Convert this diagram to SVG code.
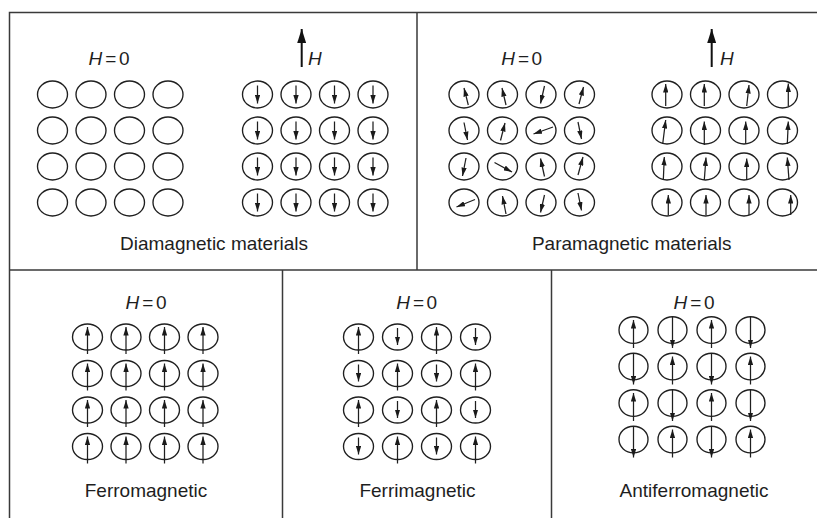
<svg xmlns="http://www.w3.org/2000/svg" width="817" height="518" viewBox="0 0 817 518">
<defs>
<marker id="ah" viewBox="0 0 8 5" refX="8" refY="2.5" markerWidth="8.5" markerHeight="5.4" markerUnits="userSpaceOnUse" orient="auto"><path d="M0,0 L8,2.5 L0,5 z" fill="#1a1a1a"/></marker>
<marker id="bh" viewBox="0 0 14 9" refX="14" refY="4.5" markerWidth="14" markerHeight="9" markerUnits="userSpaceOnUse" orient="auto"><path d="M0,0 L14,4.5 L0,9 z" fill="#111"/></marker>
</defs>
<style>
.frame{fill:none;stroke:#3a3a3a;stroke-width:1.5}
.c{fill:none;stroke:#1f1f1f;stroke-width:1.35}
.a{fill:none;stroke:#1f1f1f;stroke-width:1.25;marker-end:url(#ah)}
.big{fill:none;stroke:#111;stroke-width:2;marker-end:url(#bh)}
.lbl{font-family:"Liberation Sans",Arial,sans-serif;font-size:19px;fill:#1e1e1e;text-anchor:middle}
.h{font-family:"Liberation Sans",Arial,sans-serif;font-size:19px;fill:#1e1e1e}
</style>
<rect width="817" height="518" fill="#fff"/>
<g id="frames">
<path class="frame" d="M9.5,518 V12.5 H817 M417,12.5 V270 M9.5,270 H817 M282.5,270 V518 M551.5,270 V518"/>
</g>

<g id="diamagnetic">
<text class="h" x="109" y="65" text-anchor="middle"><tspan font-style="italic">H</tspan><tspan dx="3">=</tspan><tspan dx="2.5">0</tspan></text>
<path class="big" d="M301.7,67 V29"/>
<text class="h" x="308" y="65" font-style="italic">H</text>
<g id="dia-h0">
<ellipse class="c" cx="52.5" cy="94.5" rx="15" ry="13.5"/><ellipse class="c" cx="91" cy="94.5" rx="15" ry="13.5"/><ellipse class="c" cx="129.5" cy="94.5" rx="15" ry="13.5"/><ellipse class="c" cx="168" cy="94.5" rx="15" ry="13.5"/>
<ellipse class="c" cx="52.5" cy="130.5" rx="15" ry="13.5"/><ellipse class="c" cx="91" cy="130.5" rx="15" ry="13.5"/><ellipse class="c" cx="129.5" cy="130.5" rx="15" ry="13.5"/><ellipse class="c" cx="168" cy="130.5" rx="15" ry="13.5"/>
<ellipse class="c" cx="52.5" cy="166.5" rx="15" ry="13.5"/><ellipse class="c" cx="91" cy="166.5" rx="15" ry="13.5"/><ellipse class="c" cx="129.5" cy="166.5" rx="15" ry="13.5"/><ellipse class="c" cx="168" cy="166.5" rx="15" ry="13.5"/>
<ellipse class="c" cx="52.5" cy="202.5" rx="15" ry="13.5"/><ellipse class="c" cx="91" cy="202.5" rx="15" ry="13.5"/><ellipse class="c" cx="129.5" cy="202.5" rx="15" ry="13.5"/><ellipse class="c" cx="168" cy="202.5" rx="15" ry="13.5"/>
</g>
<g id="dia-h">
<ellipse class="c" cx="257.5" cy="94.5" rx="15" ry="13.5"/><ellipse class="c" cx="296" cy="94.5" rx="15" ry="13.5"/><ellipse class="c" cx="334.5" cy="94.5" rx="15" ry="13.5"/><ellipse class="c" cx="373" cy="94.5" rx="15" ry="13.5"/>
<ellipse class="c" cx="257.5" cy="130.5" rx="15" ry="13.5"/><ellipse class="c" cx="296" cy="130.5" rx="15" ry="13.5"/><ellipse class="c" cx="334.5" cy="130.5" rx="15" ry="13.5"/><ellipse class="c" cx="373" cy="130.5" rx="15" ry="13.5"/>
<ellipse class="c" cx="257.5" cy="166.5" rx="15" ry="13.5"/><ellipse class="c" cx="296" cy="166.5" rx="15" ry="13.5"/><ellipse class="c" cx="334.5" cy="166.5" rx="15" ry="13.5"/><ellipse class="c" cx="373" cy="166.5" rx="15" ry="13.5"/>
<ellipse class="c" cx="257.5" cy="202.5" rx="15" ry="13.5"/><ellipse class="c" cx="296" cy="202.5" rx="15" ry="13.5"/><ellipse class="c" cx="334.5" cy="202.5" rx="15" ry="13.5"/><ellipse class="c" cx="373" cy="202.5" rx="15" ry="13.5"/>
<path class="a" d="M257.5,85.5 V103.5"/><path class="a" d="M296,85.5 V103.5"/><path class="a" d="M334.5,85.5 V103.5"/><path class="a" d="M373,85.5 V103.5"/>
<path class="a" d="M257.5,121.5 V139.5"/><path class="a" d="M296,121.5 V139.5"/><path class="a" d="M334.5,121.5 V139.5"/><path class="a" d="M373,121.5 V139.5"/>
<path class="a" d="M257.5,157.5 V175.5"/><path class="a" d="M296,157.5 V175.5"/><path class="a" d="M334.5,157.5 V175.5"/><path class="a" d="M373,157.5 V175.5"/>
<path class="a" d="M257.5,193.5 V211.5"/><path class="a" d="M296,193.5 V211.5"/><path class="a" d="M334.5,193.5 V211.5"/><path class="a" d="M373,193.5 V211.5"/>
</g>
<text class="lbl" x="214" y="250">Diamagnetic materials</text>
</g>

<g id="paramagnetic">
<text class="h" x="521.7" y="65" text-anchor="middle"><tspan font-style="italic">H</tspan><tspan dx="3">=</tspan><tspan dx="2.5">0</tspan></text>
<path class="big" d="M711.7,67 V29"/>
<text class="h" x="720" y="65" font-style="italic">H</text>
<g id="para-h0">
<ellipse class="c" cx="464" cy="94.5" rx="15" ry="13.5"/><ellipse class="c" cx="502.5" cy="94.5" rx="15" ry="13.5"/><ellipse class="c" cx="541" cy="94.5" rx="15" ry="13.5"/><ellipse class="c" cx="579.5" cy="94.5" rx="15" ry="13.5"/>
<ellipse class="c" cx="464" cy="130.5" rx="15" ry="13.5"/><ellipse class="c" cx="502.5" cy="130.5" rx="15" ry="13.5"/><ellipse class="c" cx="541" cy="130.5" rx="15" ry="13.5"/><ellipse class="c" cx="579.5" cy="130.5" rx="15" ry="13.5"/>
<ellipse class="c" cx="464" cy="166.5" rx="15" ry="13.5"/><ellipse class="c" cx="502.5" cy="166.5" rx="15" ry="13.5"/><ellipse class="c" cx="541" cy="166.5" rx="15" ry="13.5"/><ellipse class="c" cx="579.5" cy="166.5" rx="15" ry="13.5"/>
<ellipse class="c" cx="464" cy="202.5" rx="15" ry="13.5"/><ellipse class="c" cx="502.5" cy="202.5" rx="15" ry="13.5"/><ellipse class="c" cx="541" cy="202.5" rx="15" ry="13.5"/><ellipse class="c" cx="579.5" cy="202.5" rx="15" ry="13.5"/>
<path class="a" d="M468.3,105 L464,88"/><path class="a" d="M506,105 L502,88"/><path class="a" d="M544.5,86 L540.5,103.5"/><path class="a" d="M579,104 L583.5,87"/>
<path class="a" d="M464,122.5 L467.5,140"/><path class="a" d="M500.5,140.5 L505,123"/><path class="a" d="M553,127 L533.5,134"/><path class="a" d="M578,122 L581.5,139"/>
<path class="a" d="M466,158 L462.5,176"/><path class="a" d="M494.5,162.5 L512,172"/><path class="a" d="M544.5,176.5 L540.5,158.5"/><path class="a" d="M578,175 L583,157"/>
<path class="a" d="M475,199.5 L456.5,207"/><path class="a" d="M506,214 L502.5,196"/><path class="a" d="M544.5,195 L540.5,212.5"/><path class="a" d="M578,193 L581.5,210.5"/>
</g>
<g id="para-h">
<ellipse class="c" cx="667" cy="94.5" rx="15" ry="13.5"/><ellipse class="c" cx="705.5" cy="94.5" rx="15" ry="13.5"/><ellipse class="c" cx="744" cy="94.5" rx="15" ry="13.5"/><ellipse class="c" cx="782.5" cy="94.5" rx="15" ry="13.5"/>
<ellipse class="c" cx="667" cy="130.5" rx="15" ry="13.5"/><ellipse class="c" cx="705.5" cy="130.5" rx="15" ry="13.5"/><ellipse class="c" cx="744" cy="130.5" rx="15" ry="13.5"/><ellipse class="c" cx="782.5" cy="130.5" rx="15" ry="13.5"/>
<ellipse class="c" cx="667" cy="166.5" rx="15" ry="13.5"/><ellipse class="c" cx="705.5" cy="166.5" rx="15" ry="13.5"/><ellipse class="c" cx="744" cy="166.5" rx="15" ry="13.5"/><ellipse class="c" cx="782.5" cy="166.5" rx="15" ry="13.5"/>
<ellipse class="c" cx="667" cy="202.5" rx="15" ry="13.5"/><ellipse class="c" cx="705.5" cy="202.5" rx="15" ry="13.5"/><ellipse class="c" cx="744" cy="202.5" rx="15" ry="13.5"/><ellipse class="c" cx="782.5" cy="202.5" rx="15" ry="13.5"/>
<path class="a" d="M665.7,106 L665.7,84"/><path class="a" d="M704.3,106 L704.3,84"/><path class="a" d="M746.7,106 L749,85"/><path class="a" d="M788.3,106 L788.3,83.5"/>
<path class="a" d="M662.7,144 L665.7,120"/><path class="a" d="M704.3,145 L704.3,121.5"/><path class="a" d="M745.7,144 L745.7,121.5"/><path class="a" d="M787.3,144 L788.3,121.5"/>
<path class="a" d="M663.3,180 L664.3,157"/><path class="a" d="M704.3,180 L706,157.5"/><path class="a" d="M746.7,180 L746.7,158.5"/><path class="a" d="M789,180 L787.3,157.5"/>
<path class="a" d="M668.3,215 L668.3,195"/><path class="a" d="M706,215 L706,195"/><path class="a" d="M749,215 L749,195"/><path class="a" d="M790.7,215 L790.7,195"/>
</g>
<text class="lbl" x="631.7" y="250">Paramagnetic materials</text>
</g>

<g id="ferromagnetic">
<text class="h" x="146" y="309" text-anchor="middle"><tspan font-style="italic">H</tspan><tspan dx="3">=</tspan><tspan dx="2.5">0</tspan></text>
<ellipse class="c" cx="87.5" cy="337" rx="15" ry="13"/><ellipse class="c" cx="126" cy="337" rx="15" ry="13"/><ellipse class="c" cx="164.5" cy="337" rx="15" ry="13"/><ellipse class="c" cx="203" cy="337" rx="15" ry="13"/>
<ellipse class="c" cx="87.5" cy="373.5" rx="15" ry="13"/><ellipse class="c" cx="126" cy="373.5" rx="15" ry="13"/><ellipse class="c" cx="164.5" cy="373.5" rx="15" ry="13"/><ellipse class="c" cx="203" cy="373.5" rx="15" ry="13"/>
<ellipse class="c" cx="87.5" cy="410" rx="15" ry="13"/><ellipse class="c" cx="126" cy="410" rx="15" ry="13"/><ellipse class="c" cx="164.5" cy="410" rx="15" ry="13"/><ellipse class="c" cx="203" cy="410" rx="15" ry="13"/>
<ellipse class="c" cx="87.5" cy="446.5" rx="15" ry="13"/><ellipse class="c" cx="126" cy="446.5" rx="15" ry="13"/><ellipse class="c" cx="164.5" cy="446.5" rx="15" ry="13"/><ellipse class="c" cx="203" cy="446.5" rx="15" ry="13"/>
<path class="a" d="M87.5,354 V327"/><path class="a" d="M126,354 V327"/><path class="a" d="M164.5,354 V327"/><path class="a" d="M203,354 V327"/>
<path class="a" d="M87.5,390.5 V363.5"/><path class="a" d="M126,390.5 V363.5"/><path class="a" d="M164.5,390.5 V363.5"/><path class="a" d="M203,390.5 V363.5"/>
<path class="a" d="M87.5,427 V400"/><path class="a" d="M126,427 V400"/><path class="a" d="M164.5,427 V400"/><path class="a" d="M203,427 V400"/>
<path class="a" d="M87.5,463.5 V436.5"/><path class="a" d="M126,463.5 V436.5"/><path class="a" d="M164.5,463.5 V436.5"/><path class="a" d="M203,463.5 V436.5"/>
<text class="lbl" x="146" y="497">Ferromagnetic</text>
</g>

<g id="ferrimagnetic">
<text class="h" x="416.7" y="309" text-anchor="middle"><tspan font-style="italic">H</tspan><tspan dx="3">=</tspan><tspan dx="2.5">0</tspan></text>
<ellipse class="c" cx="358.5" cy="337" rx="15" ry="13"/><ellipse class="c" cx="397.5" cy="337" rx="15" ry="13"/><ellipse class="c" cx="436.5" cy="337" rx="15" ry="13"/><ellipse class="c" cx="475.5" cy="337" rx="15" ry="13"/>
<ellipse class="c" cx="358.5" cy="373.5" rx="15" ry="13"/><ellipse class="c" cx="397.5" cy="373.5" rx="15" ry="13"/><ellipse class="c" cx="436.5" cy="373.5" rx="15" ry="13"/><ellipse class="c" cx="475.5" cy="373.5" rx="15" ry="13"/>
<ellipse class="c" cx="358.5" cy="410" rx="15" ry="13"/><ellipse class="c" cx="397.5" cy="410" rx="15" ry="13"/><ellipse class="c" cx="436.5" cy="410" rx="15" ry="13"/><ellipse class="c" cx="475.5" cy="410" rx="15" ry="13"/>
<ellipse class="c" cx="358.5" cy="446.5" rx="15" ry="13"/><ellipse class="c" cx="397.5" cy="446.5" rx="15" ry="13"/><ellipse class="c" cx="436.5" cy="446.5" rx="15" ry="13"/><ellipse class="c" cx="475.5" cy="446.5" rx="15" ry="13"/>
<path class="a" d="M358.5,354 V327"/><path class="a" d="M397.5,328 V345"/><path class="a" d="M436.5,354 V327"/><path class="a" d="M475.5,328 V345"/>
<path class="a" d="M358.5,364.5 V381.5"/><path class="a" d="M397.5,390.5 V363.5"/><path class="a" d="M436.5,364.5 V381.5"/><path class="a" d="M475.5,390.5 V363.5"/>
<path class="a" d="M358.5,427 V400"/><path class="a" d="M397.5,401 V418"/><path class="a" d="M436.5,427 V400"/><path class="a" d="M475.5,401 V418"/>
<path class="a" d="M358.5,437.5 V454.5"/><path class="a" d="M397.5,463.5 V436.5"/><path class="a" d="M436.5,437.5 V454.5"/><path class="a" d="M475.5,463.5 V436.5"/>
<text class="lbl" x="417.5" y="497">Ferrimagnetic</text>
</g>

<g id="antiferromagnetic">
<text class="h" x="694" y="309" text-anchor="middle"><tspan font-style="italic">H</tspan><tspan dx="3">=</tspan><tspan dx="2.5">0</tspan></text>
<ellipse class="c" cx="633.5" cy="330" rx="14.5" ry="13.3"/><ellipse class="c" cx="672.5" cy="330" rx="14.5" ry="13.3"/><ellipse class="c" cx="711.5" cy="330" rx="14.5" ry="13.3"/><ellipse class="c" cx="750.5" cy="330" rx="14.5" ry="13.3"/>
<ellipse class="c" cx="633.5" cy="366.5" rx="14.5" ry="13.3"/><ellipse class="c" cx="672.5" cy="366.5" rx="14.5" ry="13.3"/><ellipse class="c" cx="711.5" cy="366.5" rx="14.5" ry="13.3"/><ellipse class="c" cx="750.5" cy="366.5" rx="14.5" ry="13.3"/>
<ellipse class="c" cx="633.5" cy="403" rx="14.5" ry="13.3"/><ellipse class="c" cx="672.5" cy="403" rx="14.5" ry="13.3"/><ellipse class="c" cx="711.5" cy="403" rx="14.5" ry="13.3"/><ellipse class="c" cx="750.5" cy="403" rx="14.5" ry="13.3"/>
<ellipse class="c" cx="633.5" cy="439.5" rx="14.5" ry="13.3"/><ellipse class="c" cx="672.5" cy="439.5" rx="14.5" ry="13.3"/><ellipse class="c" cx="711.5" cy="439.5" rx="14.5" ry="13.3"/><ellipse class="c" cx="750.5" cy="439.5" rx="14.5" ry="13.3"/>
<path class="a" d="M633.5,348 V320"/><path class="a" d="M672.5,317 V348"/><path class="a" d="M711.5,348 V320"/><path class="a" d="M750.5,317 V348"/>
<path class="a" d="M633.5,353.5 V384.5"/><path class="a" d="M672.5,384.5 V356.5"/><path class="a" d="M711.5,353.5 V384.5"/><path class="a" d="M750.5,384.5 V356.5"/>
<path class="a" d="M633.5,421 V393"/><path class="a" d="M672.5,390 V421"/><path class="a" d="M711.5,421 V393"/><path class="a" d="M750.5,390 V421"/>
<path class="a" d="M633.5,426.5 V457.5"/><path class="a" d="M672.5,457.5 V429.5"/><path class="a" d="M711.5,426.5 V457.5"/><path class="a" d="M750.5,457.5 V429.5"/>
<text class="lbl" x="694" y="497">Antiferromagnetic</text>
</g>
</svg>
